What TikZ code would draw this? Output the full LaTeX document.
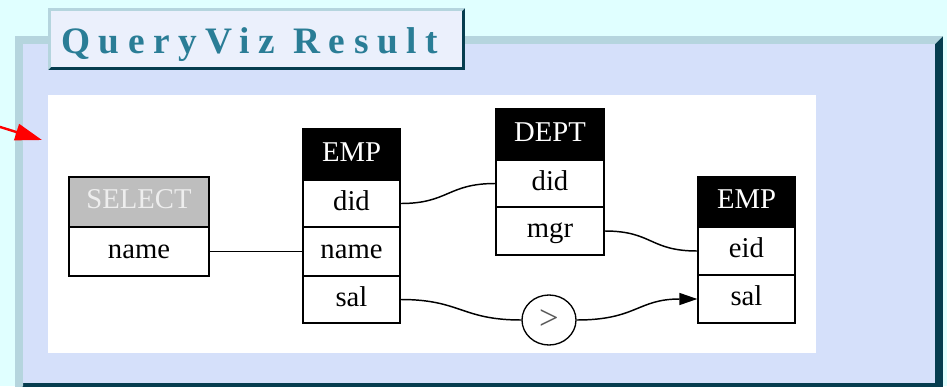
\documentclass[tikz,border=0pt]{standalone}
\usepackage{fontspec}
\setmainfont{Liberation Serif}
\usetikzlibrary{arrows.meta,shapes.geometric}

\definecolor{bgcyan}{RGB}{224,255,255}
\definecolor{panelfill}{RGB}{213,224,250}
\definecolor{bevlight}{RGB}{181,213,222}
\definecolor{bevdark}{RGB}{6,61,79}
\definecolor{titlefill}{RGB}{235,240,252}
\definecolor{titleink}{RGB}{42,125,150}
\definecolor{selgray}{RGB}{190,190,190}
\definecolor{selink}{RGB}{238,238,238}

\tikzset{
  cell/.style={draw=black, line width=1pt, fill=white, inner sep=0pt,
    font=\fontsize{21.5}{21.5}\selectfont, text height=14.5pt, text depth=4.6pt},
  hdr/.style={cell, fill=black, text=white},
  hdrsel/.style={cell, fill=selgray, text=selink},
  oper/.style={draw=black, line width=1pt, fill=white, ellipse, inner sep=0pt,
    minimum width=40.5pt, minimum height=37.5pt,
    font=\fontsize{26}{26}\selectfont, text=black!65},
  edge/.style={draw=black, line width=1.1pt},
  pointer/.style={draw=red, line width=1.8pt,
    -{Triangle[length=20pt,width=12.5pt]}}
}

\begin{document}
\begin{tikzpicture}[x=0.75pt,y=-0.75pt]
\useasboundingbox (0,0) rectangle (947,386);
\clip (0,0) rectangle (947,386);

% page background
\fill[bgcyan] (0,0) rectangle (947,386);

% outset panel
\fill[bevdark] (15,36) rectangle (943,394);
\fill[bevlight] (15,36) -- (943,36) -- (935,44) -- (23,44) -- (23,386) -- (15,394) -- cycle;
\fill[panelfill] (23,44) rectangle (935,383);

% title box
\fill[bevdark] (48,8) rectangle (465,70);
\fill[bevlight] (48,8) -- (465,8) -- (462,11) -- (51,11) -- (51,67) -- (48,70) -- cycle;
\fill[titlefill] (51,11) rectangle (462,67);
\node[anchor=base west, inner sep=0pt, text=titleink,
  font=\fontsize{28}{28}\selectfont\bfseries\addfontfeature{LetterSpace=23}]
  (title) at (61,53) {QueryViz Result};

% result image area
\fill[white] (48,95) rectangle (816,353);

% SELECT table
\node[hdrsel, minimum width=105pt, minimum height=37.5pt] (selh) at (139,202) {SELECT};
\node[cell, minimum width=105pt, minimum height=36.75pt] (seln) at (139,251.5) {name};

% EMP table (left)
\node[hdr, minimum width=72.75pt, minimum height=38.25pt] (ah) at (351.5,154.5) {EMP};
\node[cell, minimum width=72.75pt, minimum height=35.25pt] (adid) at (351.5,203.5) {did};
\node[cell, minimum width=72.75pt, minimum height=36.75pt] (aname) at (351.5,251.5) {name};
\node[cell, minimum width=72.75pt, minimum height=35.25pt] (asal) at (351.5,299.5) {sal};

% DEPT table
\node[hdr, minimum width=81pt, minimum height=38.25pt] (dh) at (550,134.5) {DEPT};
\node[cell, minimum width=81pt, minimum height=35.25pt] (ddid) at (550,183.5) {did};
\node[cell, minimum width=81pt, minimum height=36pt] (dmgr) at (550,231) {mgr};

% EMP table (right)
\node[hdr, minimum width=72.75pt, minimum height=37.5pt] (bh) at (746.5,202) {EMP};
\node[cell, minimum width=72.75pt, minimum height=36pt] (beid) at (746.5,251) {eid};
\node[cell, minimum width=72.75pt, minimum height=36pt] (bsal) at (746.5,299) {sal};

% comparison operator
\node[oper] (gt) at (549,320) {>};

% join edges
\draw[edge] (seln.east) -- (aname.west);
\draw[edge] (adid.east) .. controls +(48,0) and +(-48,0) .. (ddid.west);
\draw[edge] (dmgr.east) .. controls +(48,0) and +(-48,0) .. (beid.west);
\draw[edge] (asal.east) .. controls +(60,0) and +(-60,0) .. (gt.west);
\draw[edge, -{Triangle[length=13.5pt,width=9pt]}]
  (gt.east) .. controls +(60,0) and +(-60,0) .. (bsal.west);

% red pointer
\coordinate (ptrstart) at (-3,126);
\coordinate (ptrtip) at (42,140);
\draw[pointer] (ptrstart) -- (ptrtip);
\end{tikzpicture}
\end{document}
